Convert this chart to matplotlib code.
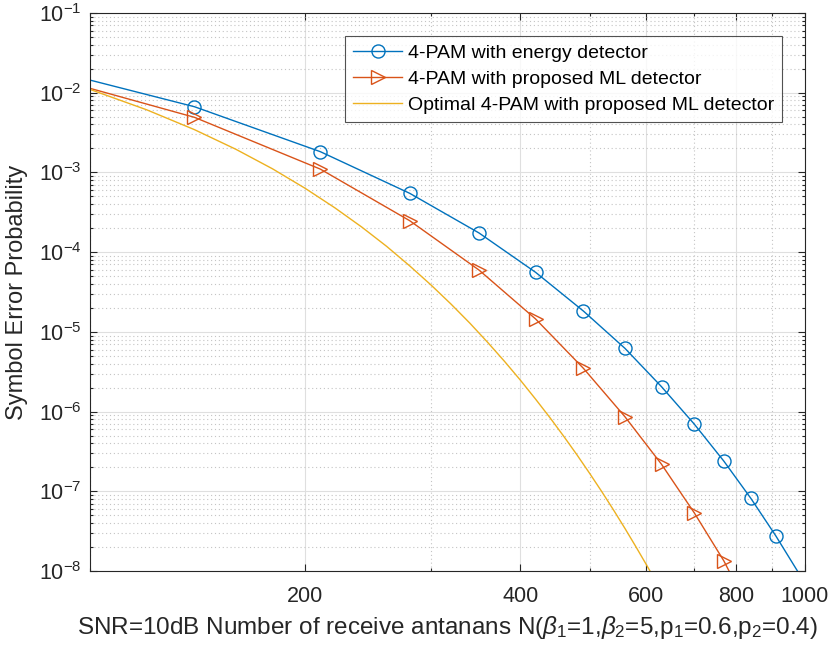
import matplotlib
matplotlib.use("Agg")
import matplotlib.pyplot as plt
from matplotlib.ticker import FixedLocator, FixedFormatter, LogLocator, NullFormatter

plt.rcParams['font.family'] = ['Liberation Sans', 'DejaVu Sans']
plt.rcParams['mathtext.fontset'] = 'custom'
plt.rcParams['mathtext.rm'] = 'Liberation Sans'
plt.rcParams['mathtext.it'] = 'Liberation Sans:italic'
plt.rcParams['mathtext.bf'] = 'Liberation Sans:bold'
plt.rcParams['axes.unicode_minus'] = False

# ---- data ----
n_energy = [100, 140, 210, 280, 350, 420, 490, 560, 630, 700, 770, 840, 910, 976]
ser_energy = [1.44e-2, 6.67e-3, 1.82e-3, 5.47e-4, 1.74e-4, 5.58e-5, 1.82e-5,
              6.21e-6, 2.05e-6, 6.97e-7, 2.39e-7, 8.15e-8, 2.77e-8, 1.0e-8]

n_ml = [100, 140, 210, 280, 350, 420, 490, 560, 630, 700, 770, 783]
ser_ml = [1.135e-2, 4.91e-3, 1.10e-3, 2.48e-4, 5.96e-5, 1.45e-5, 3.48e-6,
          8.61e-7, 2.18e-7, 5.37e-8, 1.34e-8, 1.0e-8]

n_opt = [100, 120, 140, 160, 180, 200, 220, 240, 260, 280, 300, 320, 340,
         360, 380, 400, 420, 440, 460, 480, 500, 520, 540, 560, 580, 600, 620]
ser_opt = [1.10e-2, 6.11e-3, 3.44e-3, 1.95e-3, 1.11e-3, 6.31e-4, 3.60e-4,
           2.06e-4, 1.18e-4, 6.72e-5, 3.86e-5, 2.22e-5, 1.28e-5, 7.36e-6,
           4.26e-6, 2.47e-6, 1.43e-6, 8.35e-7, 4.87e-7, 2.85e-7, 1.67e-7,
           9.83e-8, 5.79e-8, 3.42e-8, 2.02e-8, 1.20e-8, 7.15e-9]

labels = ['4-PAM with energy detector',
          '4-PAM with proposed ML detector',
          'Optimal 4-PAM with proposed ML detector']
xticks_major = [200, 400, 600, 800, 1000]
xticks_minor = [100, 300, 500, 700, 900]

c_blue = '#0072BD'
c_orange = '#D95319'
c_yellow = '#EDB120'
axcol = '#262626'

fig = plt.figure(figsize=(8.31, 6.51), dpi=100)
ax = fig.add_axes([90/831, 1-571/651, 715/831, 558/651])

ax.plot(n_energy, ser_energy, color=c_blue, lw=1.0, marker='o', ms=9.4,
        mfc='none', mec=c_blue, mew=1.0,
        markevery=list(range(1, len(n_energy)-1)), label=labels[0])
ax.plot(n_ml, ser_ml, color=c_orange, lw=1.0, marker='>', ms=9.4,
        mfc='none', mec=c_orange, mew=1.0,
        markevery=list(range(1, len(n_ml)-1)), label=labels[1])
ax.plot(n_opt, ser_opt, color=c_yellow, lw=1.0, label=labels[2])

ax.set_xscale('log')
ax.set_yscale('log')
ax.set_xlim(100, 1000)
ax.set_ylim(1e-8, 1e-1)

ax.xaxis.set_major_locator(FixedLocator(xticks_major))
ax.xaxis.set_major_formatter(FixedFormatter([str(v) for v in xticks_major]))
ax.xaxis.set_minor_locator(FixedLocator(xticks_minor))
ax.xaxis.set_minor_formatter(NullFormatter())

ax.yaxis.set_major_locator(LogLocator(base=10, numticks=20))
ax.yaxis.set_minor_locator(LogLocator(base=10, subs=range(2, 10), numticks=20))
ax.yaxis.set_minor_formatter(NullFormatter())

ax.grid(True, which='major', color='#dfdfdf', linestyle='-', lw=0.8)
ax.grid(True, which='minor', color='#c4c4c4', linestyle=(0, (1, 2.5)), lw=0.8)
ax.set_axisbelow(True)

for s in ax.spines.values():
    s.set_color(axcol)
    s.set_linewidth(0.8)

ax.tick_params(which='both', direction='in', top=True, right=True,
               color=axcol, labelcolor=axcol, width=0.8)
ax.tick_params(which='major', length=5)
ax.tick_params(which='minor', length=2.5)
ax.tick_params(axis='x', which='major', labelsize=15.5, pad=11)
ax.tick_params(axis='y', which='major', labelsize=15.5, pad=6)

ax.set_xlabel(r'SNR=10dB Number of receive antanans N($\beta_1$=1,$\beta_2$=5,p$_1$=0.6,p$_2$=0.4)',
              fontsize=17.5, color=axcol, labelpad=5)
ax.set_ylabel('Symbol Error Probability', fontsize=17, color=axcol, labelpad=8)

leg = ax.legend(loc='upper right', bbox_to_anchor=(0.968, 0.9590), borderaxespad=0,
                fontsize=14, frameon=True, fancybox=False, edgecolor=axcol,
                handlelength=2.5, handletextpad=0.3, labelspacing=0.44,
                borderpad=0.42, numpoints=1)
leg.get_frame().set_linewidth(0.8)
for t in leg.get_texts():
    t.set_color('#000000')

fig.savefig('out.png', dpi=100)
